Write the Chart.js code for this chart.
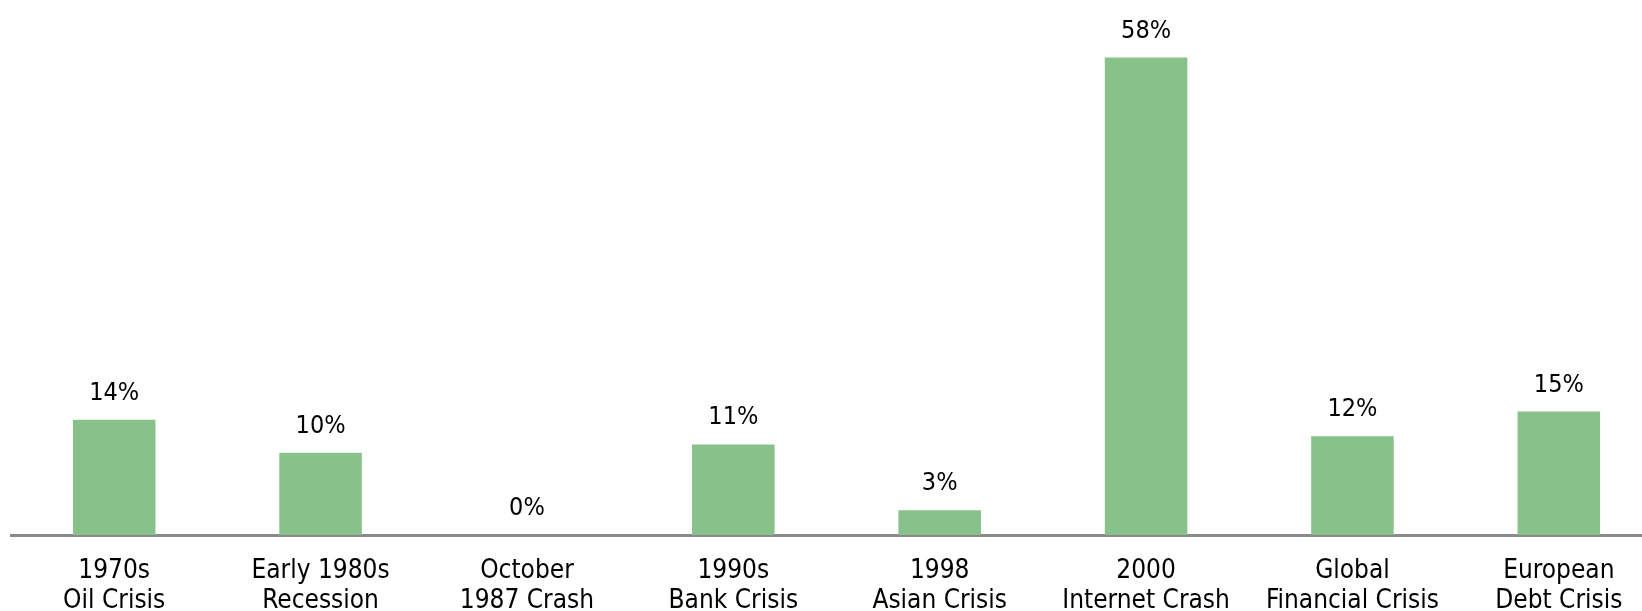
<!DOCTYPE html>
<html>
<head>
<meta charset="utf-8">
<script src="https://cdn.jsdelivr.net/npm/chart.js@4/dist/chart.umd.min.js"></script>
<style>
  html, body { margin: 0; padding: 0; background: #fff; overflow: hidden; }
  #wrap { width: 1680px; height: 611px; position: relative; }
</style>
</head>
<body>
<div id="wrap"><canvas id="crises"></canvas></div>
<script>
const crises = [
  ['1970s', 'Oil Crisis'],
  ['Early 1980s', 'Recession'],
  ['October', '1987 Crash'],
  ['1990s', 'Bank Crisis'],
  ['1998', 'Asian Crisis'],
  ['2000', 'Internet Crash'],
  ['Global', 'Financial Crisis'],
  ['European', 'Debt Crisis']
];
const declines = [14, 10, 0, 11, 3, 58, 12, 15];

const FONT = "'DejaVu Sans Condensed', Lato, sans-serif";

// percent labels above each bar
const valueLabels = {
  id: 'valueLabels',
  afterDatasetsDraw(chart) {
    const { ctx } = chart;
    const meta = chart.getDatasetMeta(0);
    ctx.save();
    ctx.font = '25px ' + FONT;
    ctx.fillStyle = '#000';
    ctx.textAlign = 'center';
    ctx.textBaseline = 'alphabetic';
    meta.data.forEach((bar, i) => {
      ctx.fillText(declines[i] + '%', bar.x, bar.y - 20);
    });
    ctx.restore();
  }
};

new Chart(document.getElementById('crises'), {
  type: 'bar',
  data: {
    labels: crises,
    datasets: [{
      data: declines,
      backgroundColor: '#88c18a',
      borderWidth: 0,
      barPercentage: 0.8,
      categoryPercentage: 0.5
    }]
  },
  options: {
    responsive: true,
    maintainAspectRatio: false,
    animation: false,
    layout: { padding: { left: 11, right: 18, top: 0, bottom: 0 } },
    plugins: {
      legend: { display: false },
      tooltip: { enabled: false }
    },
    scales: {
      x: {
        grid: { display: false, drawTicks: false },
        border: { display: true, color: '#8a8a8a', width: 3 },
        ticks: {
          color: '#000',
          padding: 21,
          maxRotation: 0,
          autoSkip: false,
          font: { family: FONT, size: 26, lineHeight: 1.15 }
        },
        afterFit(scale) { scale.height = 76; }
      },
      y: {
        display: false,
        min: 0,
        max: 65
      }
    }
  },
  plugins: [valueLabels]
});
</script>
</body>
</html>
